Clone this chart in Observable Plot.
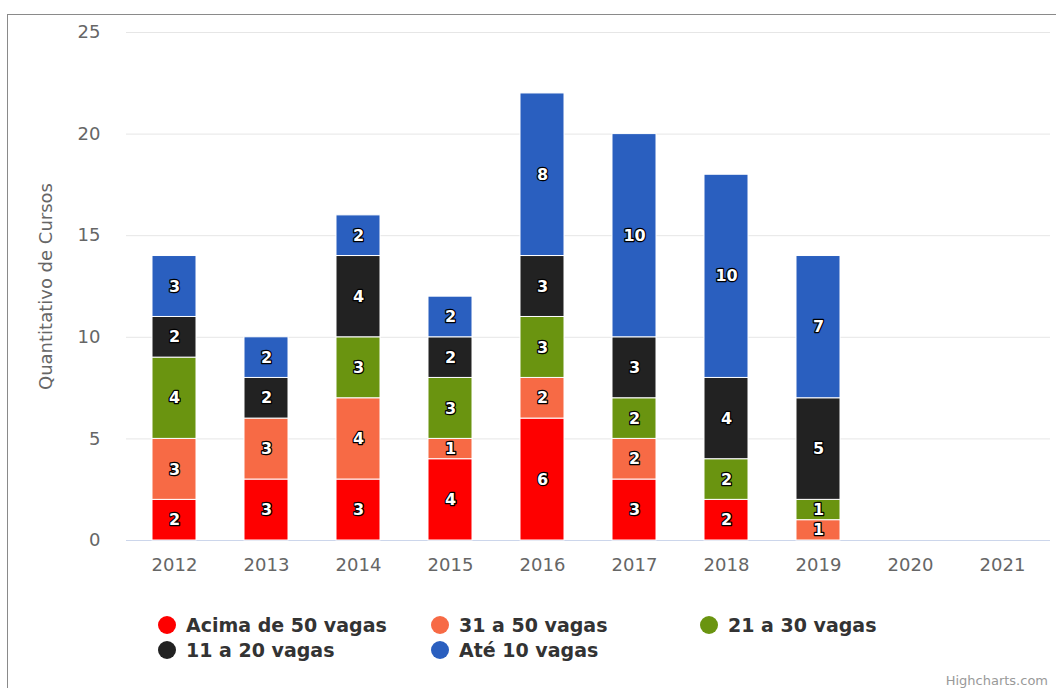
<!DOCTYPE html>
<html><head><meta charset="utf-8">
<script src="https://cdn.jsdelivr.net/npm/d3@7"></script>
<script src="https://cdn.jsdelivr.net/npm/@observablehq/plot@0.6"></script>
<style>
body{margin:0;background:#fff;font-family:"DejaVu Sans",sans-serif;width:1056px;height:688px;overflow:hidden;position:relative;}
#frame{position:absolute;left:7px;top:14px;width:1070px;height:700px;border-left:1px solid #8a8a8a;border-top:1px solid #8a8a8a;}
#chart{position:absolute;left:8px;top:15px;}
#legend{position:absolute;left:0;top:0;width:1056px;height:688px;pointer-events:none;}
.item{position:absolute;font-weight:bold;font-size:19px;color:#333;white-space:nowrap;line-height:22px;}
.dot{position:absolute;width:18px;height:18px;border-radius:50%;}
#credit{position:absolute;right:8px;top:673px;font-size:13px;color:#999;}
</style></head>
<body>
<div id="frame"></div>
<div id="chart"></div>
<div id="legend"></div>
<div id="credit">Highcharts.com</div>
<script>
const years = ["2012","2013","2014","2015","2016","2017","2018","2019","2020","2021"];
const seriesNames = ["Acima de 50 vagas","31 a 50 vagas","21 a 30 vagas","11 a 20 vagas","Até 10 vagas"];
const colors = ["#fe0000","#f76a45","#6a9410","#222222","#2a5fbf"];
const acima50 = [2,3,3,4,6,3,2,0,0,0];
const de31a50 = [3,3,4,1,2,2,0,1,0,0];
const de21a30 = [4,0,3,3,3,2,2,1,0,0];
const de11a20 = [2,2,4,2,3,3,4,5,0,0];
const ate10   = [3,2,2,2,8,10,10,7,0,0];
const yTicks = [0,5,10,15,20,25];

const seriesValues = [acima50, de31a50, de21a30, de11a20, ate10];
const rows = [];
years.forEach((yr, i) => {
  seriesNames.forEach((s, j) => {
    if (seriesValues[j][i] > 0) rows.push({year: yr, series: s, value: seriesValues[j][i]});
  });
});

const chart = Plot.plot({
  width: 1048,
  height: 580,
  marginLeft: 118,
  marginRight: 6,
  marginTop: 17,
  marginBottom: 55,
  style: {fontFamily: "DejaVu Sans, sans-serif", background: "transparent"},
  x: {domain: years, paddingInner: 0.52, paddingOuter: 0.25, label: null},
  y: {domain: [0, 25], label: null},
  color: {domain: seriesNames, range: colors},
  marks: [
    Plot.gridY(yTicks, {stroke: "#e6e6e6", strokeOpacity: 1}),
    Plot.ruleY([0], {stroke: "#ccd6eb"}),
    Plot.axisY(yTicks, {tickSize: 0, tickPadding: 26, fontSize: 18, color: "#666",
      label: "Quantitativo de Cursos", labelAnchor: "center", labelArrow: "none", labelOffset: 87}),
    Plot.axisX({tickSize: 0, tickPadding: 18, fontSize: 18, color: "#666"}),
    Plot.barY(rows, Plot.stackY({x: "year", y: "value", z: "series", fill: "series", stroke: "#fff", strokeWidth: 1})),
    Plot.text(rows, Plot.stackY({x: "year", y: "value", z: "series", text: "value",
      fill: "#fff", stroke: "#000", strokeWidth: 2.5, fontWeight: "bold", fontSize: 16, paintOrder: "stroke"}))
  ]
});
document.getElementById("chart").appendChild(chart);

const legend = document.getElementById("legend");
const pos = [[158,614],[431,614],[700,614],[158,639],[431,639]];
seriesNames.forEach((s, j) => {
  const [x, y] = pos[j];
  const d = document.createElement("div");
  d.className = "dot";
  d.style.left = x + "px"; d.style.top = (y + 2) + "px"; d.style.background = colors[j];
  legend.appendChild(d);
  const t = document.createElement("div");
  t.className = "item";
  t.style.left = (x + 28) + "px"; t.style.top = y + "px";
  t.textContent = s;
  legend.appendChild(t);
});
</script>
</body></html>
